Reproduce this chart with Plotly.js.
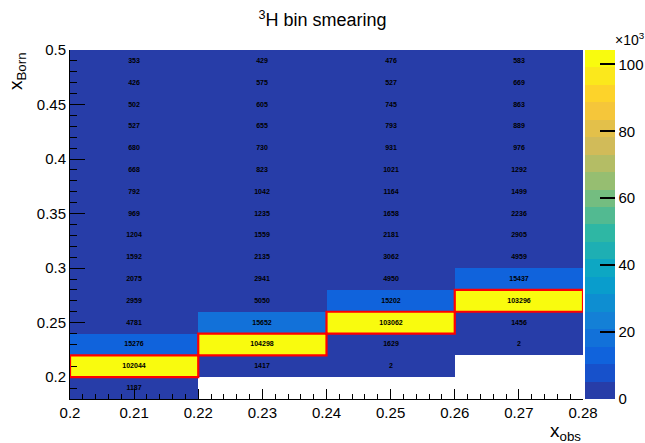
<!DOCTYPE html>
<html>
<head>
<meta charset="utf-8">
<script src="https://cdn.plot.ly/plotly-3.0.1.min.js"></script>
<style>html,body{margin:0;padding:0;background:#fff;}#chart{width:645px;height:443px;}</style>
</head>
<body>
<div id="chart"></div>
<script>
// Bin edges
const xEdges = [0.20, 0.22, 0.24, 0.26, 0.28];
const yEdges = [0.18, 0.20, 0.22, 0.24, 0.26, 0.28, 0.30, 0.32, 0.34, 0.36, 0.38, 0.40, 0.42, 0.44, 0.46, 0.48, 0.50];

// Counts per x_obs column, listed from bottom (y=0.18) to top (y=0.50)
const col1 = [1187, 102044, 15276, 4781, 2959, 2075, 1592, 1204, 969, 792, 668, 680, 527, 502, 426, 353];
const col2 = [null, 1417, 104298, 15652, 5050, 2941, 2135, 1559, 1235, 1042, 823, 730, 655, 605, 575, 429];
const col3 = [null, 2, 1629, 103062, 15202, 4950, 3062, 2181, 1658, 1164, 1021, 931, 793, 745, 527, 476];
const col4 = [null, null, 2, 1456, 103296, 15437, 4959, 2905, 2236, 1499, 1292, 976, 889, 863, 669, 583];

const cbTickVals = [0, 20000, 40000, 60000, 80000, 100000];
const cbTickText = ['0', '20', '40', '60', '80', '100'];

const cols = [col1, col2, col3, col4];
const nY = yEdges.length - 1;
const z = [], text = [];
let zmax = 0;
for (let r = 0; r < nY; r++) {
  const row = [], trow = [];
  for (let c = 0; c < cols.length; c++) {
    const v = cols[c][r];
    row.push(v);
    trow.push(v === null ? '' : String(v));
    if (v !== null && v > zmax) zmax = v;
  }
  z.push(row); text.push(trow);
}

// ROOT kBird palette, discretised into 20 contour bands
const stops = [0.0, 0.125, 0.25, 0.375, 0.5, 0.625, 0.75, 0.875, 1.0];
const red = [0.2082, 0.0592, 0.0780, 0.0232, 0.1802, 0.5301, 0.8186, 0.9956, 0.9764];
const green = [0.1664, 0.3599, 0.5041, 0.6419, 0.7178, 0.7492, 0.7328, 0.7862, 0.9832];
const blue = [0.5293, 0.8684, 0.8385, 0.7914, 0.6425, 0.4662, 0.3499, 0.1968, 0.0539];
function bird(p) {
  let i = 0;
  while (i < stops.length - 2 && p > stops[i + 1]) i++;
  const t = (p - stops[i]) / (stops[i + 1] - stops[i]);
  const f = a => Math.round(255 * (a[i] + t * (a[i + 1] - a[i])));
  return 'rgb(' + f(red) + ',' + f(green) + ',' + f(blue) + ')';
}
const nCont = 20;
const colorscale = [];
for (let i = 0; i < nCont; i++) {
  const idx = Math.floor((i + 0.99) * 255 / nCont);
  const col = bird(Math.min(idx, 254) / 254);
  colorscale.push([i / nCont, col]);
  colorscale.push([(i + 1) / nCont, col]);
}

// Red boxes around the maximum of each column
const shapes = [];
for (let c = 0; c < cols.length; c++) {
  let best = -1, bi = 0;
  cols[c].forEach((v, r) => { if (v !== null && v > best) { best = v; bi = r; } });
  shapes.push({type: 'rect', xref: 'x', yref: 'y', x0: xEdges[c], x1: xEdges[c + 1],
    y0: yEdges[bi], y1: yEdges[bi + 1], line: {color: '#ff0000', width: 2.2}});
}

const font = 'Liberation Sans, Arial, Helvetica, sans-serif';

const trace = {
  type: 'heatmap',
  x: xEdges, y: yEdges, z: z,
  text: text, texttemplate: '%{text}',
  textfont: {family: font, size: 7, color: '#000', weight: 'bold'},
  zmin: 0, zmax: zmax,
  colorscale: colorscale,
  hoverinfo: 'skip',
  colorbar: {
    x: 1.004, xanchor: 'left', xpad: 0, ypad: 0,
    y: 0.5, yanchor: 'middle', len: 1, lenmode: 'fraction',
    thickness: 30, thicknessmode: 'pixels', outlinewidth: 0,
    tickmode: 'array', tickvals: cbTickVals, ticktext: cbTickText,
    ticks: 'inside', ticklen: 15, tickcolor: '#000', tickwidth: 2,
    ticklabelposition: 'outside',
    tickfont: {family: font, size: 15, color: '#000'}
  }
};

const layout = {
  width: 645, height: 443,
  margin: {l: 70, r: 62, t: 50, b: 44, pad: 0, autoexpand: false},
  paper_bgcolor: '#fff', plot_bgcolor: '#fff',
  title: {text: '<sup>3</sup>H bin smearing', x: 0.5, xref: 'container', xanchor: 'center',
    y: 1 - 20 / 443, yref: 'container', yanchor: 'middle',
    font: {family: font, size: 18, color: '#000'}},
  xaxis: {
    range: [0.2, 0.28], dtick: 0.01, tick0: 0.2, tickformat: '.2~f',
    ticks: 'inside', ticklen: 10, tickcolor: '#000', tickwidth: 1,
    minor: {dtick: 0.002, ticks: 'inside', ticklen: 5, tickcolor: '#000', showgrid: false},
    showline: true, linecolor: '#000', linewidth: 1, mirror: false,
    showgrid: false, zeroline: false,
    tickfont: {family: font, size: 15, color: '#000'}
  },
  yaxis: {
    range: [0.18, 0.5], dtick: 0.05, tick0: 0.2, tickformat: '.2~f',
    ticks: 'inside', ticklen: 15, tickcolor: '#000', tickwidth: 1,
    minor: {dtick: 0.01, ticks: 'inside', ticklen: 7, tickcolor: '#000', showgrid: false},
    showline: true, linecolor: '#000', linewidth: 1, mirror: false,
    showgrid: false, zeroline: false,
    tickfont: {family: font, size: 15, color: '#000'}
  },
  shapes: shapes,
  annotations: [
    {text: 'x<sub>Born</sub>', xref: 'paper', yref: 'paper', x: -53 / 513, y: 1.0,
      xanchor: 'center', yanchor: 'top', textangle: -90, showarrow: false,
      font: {family: font, size: 19, color: '#000'}},
    {text: 'x<sub>obs</sub>', xref: 'paper', yref: 'paper', x: 1.0, y: -19 / 349,
      xanchor: 'right', yanchor: 'top', showarrow: false,
      font: {family: font, size: 19, color: '#000'}},
    {text: '\u00d710<sup>3</sup>', xref: 'paper', yref: 'paper', x: 1.058, y: 1.0,
      xanchor: 'left', yanchor: 'bottom', showarrow: false,
      font: {family: font, size: 14, color: '#000'}}
  ]
};

Plotly.newPlot('chart', [trace], layout, {staticPlot: true, displayModeBar: false});
</script>
</body>
</html>
